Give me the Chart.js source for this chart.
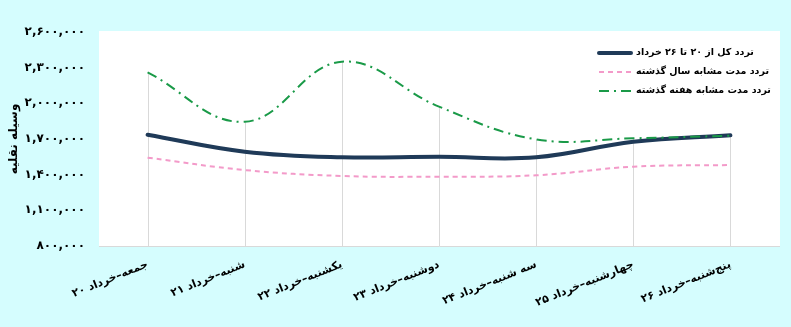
<!DOCTYPE html>
<html><head><meta charset="utf-8">
<script src="https://cdn.jsdelivr.net/npm/chart.js@4/dist/chart.umd.min.js"></script>
<style>
html,body{margin:0;padding:0;background:#D5FDFE;}
#wrap{width:791px;height:327px;position:relative;}
</style>
</head><body><div id="wrap"><canvas id="c"></canvas></div>
<script>
const categories = ['جمعه–خرداد ۲۰', 'شنبه–خرداد ۲۱', 'یکشنبه–خرداد ۲۲', 'دوشنبه–خرداد ۲۳', 'سه شنبه–خرداد ۲۴', 'چهارشنبه–خرداد ۲۵', 'پنج‌شنبه–خرداد ۲۶'];
const seriesNames = ['تردد کل از ۲۰ تا ۲۶ خرداد', 'تردد مدت مشابه سال گذشته', 'تردد مدت مشابه هفته گذشته'];
const totalTraffic = [1735000, 1593000, 1546000, 1550000, 1546000, 1677000, 1731000];
const lastYearTraffic = [1543000, 1439000, 1389000, 1383000, 1395000, 1467000, 1481000];
const lastWeekTraffic = [2261000, 1845000, 2350000, 1972000, 1697000, 1706000, 1728000];
const yMin = 800000, yMax = 2600000, yStep = 300000;
const yTitle = 'وسیله نقلیه';

const faDigits = s => String(s).replace(/\d/g, d => '۰۱۲۳۴۵۶۷۸۹'[d]);
const FONT = "'DejaVu Sans', sans-serif";

const plotBg = {
  id: 'plotBg',
  beforeDraw(chart) {
    const {ctx, chartArea: a} = chart;
    ctx.save(); ctx.fillStyle = '#FFFFFF';
    ctx.fillRect(a.left, a.top - 1, a.right - a.left + 1, a.bottom - a.top + 1);
    ctx.restore();
  }
};

const dropLines = {
  id: 'dropLines',
  beforeDatasetsDraw(chart) {
    const {ctx, chartArea, scales: {x, y}} = chart;
    ctx.save(); ctx.strokeStyle = '#D9D9D9'; ctx.lineWidth = 1;
    categories.forEach((c, i) => {
      const maxV = Math.max(...chart.data.datasets.map(d => d.data[i]));
      const px = Math.round(x.getPixelForValue(i)) + 0.5;
      ctx.beginPath(); ctx.moveTo(px, y.getPixelForValue(maxV)); ctx.lineTo(px, chartArea.bottom); ctx.stroke();
    });
    ctx.restore();
  }
};

const customLegend = {
  id: 'customLegend',
  afterDraw(chart) {
    const {ctx, chartArea: a} = chart;
    ctx.save();
    ctx.font = 'bold 9.5px ' + FONT;
    ctx.textBaseline = 'middle';
    ctx.textAlign = 'left';
    const x0 = a.right - 180, y0 = a.top + 21, rowH = 19;
    chart.data.datasets.forEach((ds, i) => {
      const yy = y0 + i * rowH;
      ctx.strokeStyle = ds.borderColor;
      ctx.lineWidth = ds.borderWidth;
      ctx.lineCap = i === 0 ? 'round' : 'butt';
      ctx.setLineDash(ds.borderDash || []);
      ctx.beginPath(); ctx.moveTo(x0, yy); ctx.lineTo(x0 + 32, yy); ctx.stroke();
      ctx.setLineDash([]);
      ctx.fillStyle = '#000';
      ctx.fillText(ds.label, x0 + 37, yy);
    });
    ctx.restore();
  }
};

new Chart(document.getElementById('c'), {
  type: 'line',
  data: {
    labels: categories,
    datasets: [
      {label: seriesNames[0], data: totalTraffic, borderColor: '#1F3A58', borderWidth: 4, pointRadius: 0, tension: 0.4, order: 2, borderCapStyle: 'round'},
      {label: seriesNames[1], data: lastYearTraffic, borderColor: '#F39AC9', borderWidth: 2, borderDash: [5, 4], pointRadius: 0, tension: 0.4, order: 1},
      {label: seriesNames[2], data: lastWeekTraffic, borderColor: '#1A9A48', borderWidth: 2, borderDash: [10, 5, 2, 5], pointRadius: 0, tension: 0.4, order: 0}
    ]
  },
  options: {
    responsive: true, maintainAspectRatio: false, animation: false, devicePixelRatio: 1,
    layout: {padding: {left: 0, right: 12, top: 32, bottom: 0}},
    plugins: {legend: {display: false}, tooltip: {enabled: false}},
    scales: {
      x: {
        offset: true,
        grid: {display: false, drawTicks: false},
        border: {display: true, color: '#D9D9D9', width: 1},
        ticks: {minRotation: 22, maxRotation: 22, padding: 12, color: '#000', font: {family: FONT, size: 11, weight: 'bold'}},
        afterFit(s) { s.height = 81; }
      },
      y: {
        min: yMin, max: yMax,
        grid: {display: false, drawTicks: false},
        border: {display: false},
        ticks: {stepSize: yStep, padding: 14, color: '#000', font: {family: FONT, size: 12, weight: 'bold'},
          callback: v => faDigits(Number(v).toLocaleString('en-US'))},
        title: {display: true, text: yTitle, color: '#000', padding: {top: 7, bottom: 0}, font: {family: FONT, size: 12, weight: 'bold'}},
        afterFit(s) { s.width = 99; }
      }
    }
  },
  plugins: [plotBg, dropLines, customLegend]
});
</script>
</body></html>
